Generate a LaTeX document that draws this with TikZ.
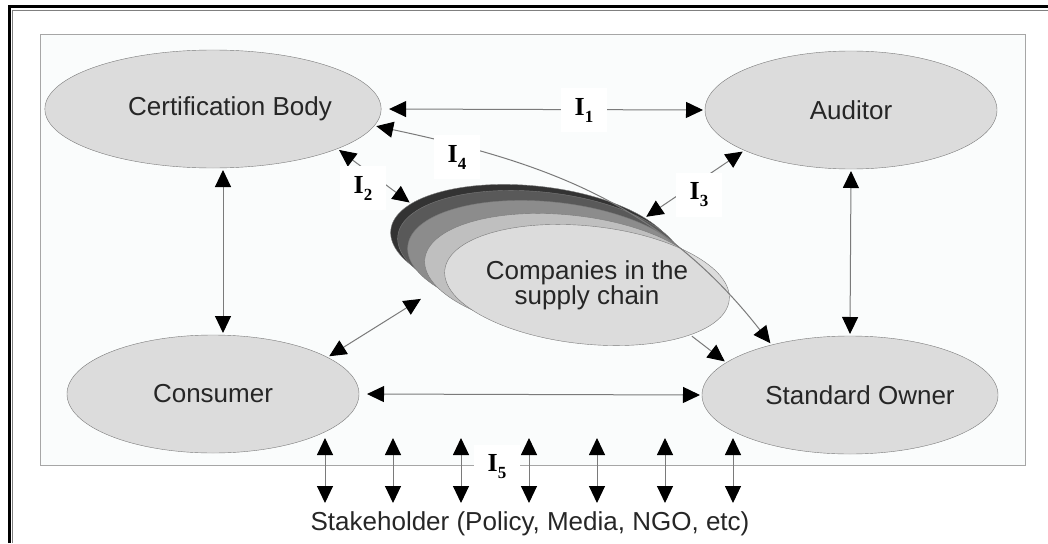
\documentclass[tikz,border=0pt]{standalone}
\usepackage{fontspec}
\setmainfont{Liberation Sans}
\newfontfamily\labfont{Liberation Serif}
\usetikzlibrary{shapes.geometric,arrows.meta}

\definecolor{nodegray}{HTML}{DCDCDC}
\definecolor{linegray}{HTML}{7A7A7A}
\definecolor{panel}{HTML}{FAFCFC}

\newcommand{\ilab}[1]{{\labfont\bfseries I\raisebox{-7pt}{\fontsize{17}{17}\selectfont #1}}}

\begin{document}
\begin{tikzpicture}[x=1pt,y=1pt,
	>={Triangle[length=17pt,width=16pt,color=black]},
	actor/.style={ellipse, draw=linegray, fill=nodegray, minimum width=292pt, minimum height=118pt, inner sep=0pt, outer sep=2pt, font=\fontsize{26}{25}\selectfont, text=black!85},
	layer/.style={ellipse, draw=linegray, minimum width=286pt, minimum height=118pt, inner sep=0pt, outer sep=2pt, rotate=-6},
	link/.style={draw=linegray, line width=1pt},
	ilabel/.style={fill=white, inner xsep=14pt, inner ysep=10pt, font=\fontsize{26}{26}\selectfont}]
	
	\useasboundingbox (0,0) rectangle (1048,-543);
	
	% frame
	\draw[line width=3.5pt] (9.5,-543) -- (9.5,-6.5) -- (1048,-6.5);
	\draw[gray, line width=1pt] (12.5,-543) -- (12.5,-10.5) -- (1048,-10.5);
	\draw[gray!70, fill=panel] (40,-34) rectangle (1025,-465);
	
	% actors
	\node[actor] (cb) at (213,-109) {\hspace*{34pt}Certification Body};
	\node[actor] (aud) at (851,-110) {Auditor};
	\node[actor] (con) at (213,-394) {Consumer};
	\node[actor] (so) at (850,-395) {\hspace*{20pt}Standard Owner};
	
	% supply chain stack
	\node[layer, fill=black!80] (c5) at (533,-245) {};
	\node[layer, fill=black!65] (c4) at (540,-251) {};
	\node[layer, fill=black!45] (c3) at (550,-261) {};
	\node[layer, fill=black!25] (c2) at (567,-274) {};
	\node[layer, fill=nodegray] (c1) at (587,-285) {};
	\node[align=center, font=\fontsize{26}{25}\selectfont, text=black!85] (comp) at (587,-285) {Companies in the\\supply chain};
	
	% interactions
	\draw[link, <->, shorten <=6pt] (cb.east) -- (aud.west);
	\draw[link, <->] ([xshift=10pt]cb.south) -- ([xshift=10pt]con.north);
	\draw[link, <->] (aud.south) -- (so.north);
	\draw[link, <->, shorten <=6pt] (con.east) -- (so.west);
	\draw[link, <->] (cb.-18) -- (c5.167);
	\draw[link, <->] (aud.201) -- (c5.20);
	\draw[link, <->, shorten >=26pt] (con.18) -- (c5.210);
	\draw[link, ->] (c1.-20) -- (so.165);
	\draw[link, <->] (cb.-6) to[out=-12, in=128] (so.147);
	
	% stakeholder
	\node[font=\fontsize{26}{25}\selectfont, text=black!85] (stake) at (530,-524) {Stakeholder (Policy, Media, NGO, etc)};
	\foreach \x in {325,393,...,733}
		\draw[link, <->] (\x,-438) -- (\x,-503);
	
	% labels
	\node[ilabel] (i1) at (584,-110) {\ilab{1}};
	\node[ilabel] (i2) at (363,-188) {\ilab{2}};
	\node[ilabel] (i3) at (699,-195) {\ilab{3}};
	\node[ilabel] (i4) at (457,-157) {\ilab{4}};
	\node[ilabel] (i5) at (497,-467) {\ilab{5}};
	
\end{tikzpicture}
\end{document}
